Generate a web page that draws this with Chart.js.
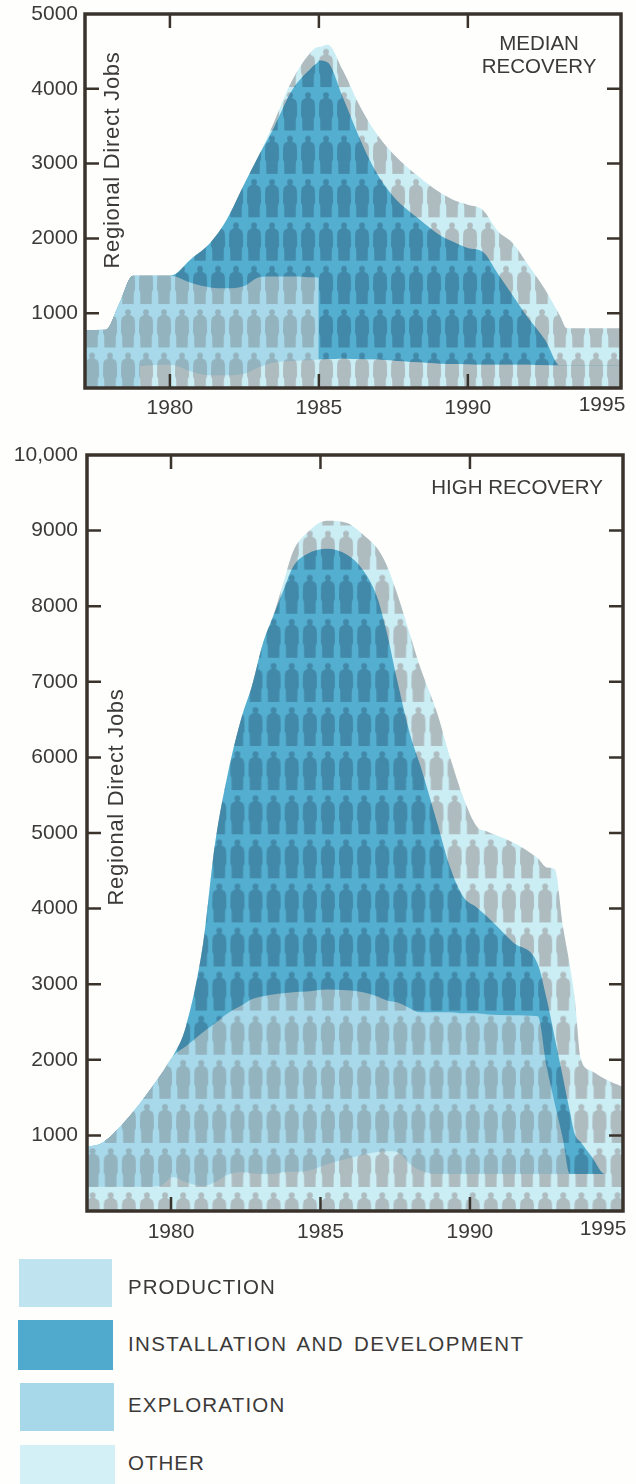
<!DOCTYPE html>
<html>
<head>
<meta charset="utf-8">
<title>Regional Direct Jobs</title>
<script src="https://cdn.jsdelivr.net/npm/chart.js@4/dist/chart.umd.min.js"></script>
<style>
  html, body { margin: 0; padding: 0; background: #fefefd; overflow: hidden; }
  #page { position: relative; width: 636px; height: 1484px; overflow: hidden; font-family: "Liberation Sans", sans-serif; }
  canvas { position: absolute; left: 0; }
  .swatch { position: absolute; }
  .label { position: absolute; left: 128px; font-size: 20.5px; letter-spacing: 1px; line-height: 24px; color: #3c3a38; white-space: nowrap; }
</style>
</head>
<body>
<div id="page">
  <canvas id="medianChart" style="top:0"></canvas>
  <canvas id="highChart" style="top:440px"></canvas>

  <div class="swatch" style="left:19px;top:1259px;width:93px;height:48px;background:#bfe4f0"></div>
  <div class="label" style="top:1275px">PRODUCTION</div>
  <div class="swatch" style="left:18px;top:1320px;width:95px;height:50px;background:#4faacd"></div>
  <div class="label" style="top:1332px;letter-spacing:1.4px;word-spacing:3px">INSTALLATION AND DEVELOPMENT</div>
  <div class="swatch" style="left:20px;top:1383px;width:94px;height:48px;background:#a6d8ea"></div>
  <div class="label" style="top:1393px;letter-spacing:1.2px">EXPLORATION</div>
  <div class="swatch" style="left:20px;top:1445px;width:95px;height:39px;background:#d2f0f6"></div>
  <div class="label" style="top:1451px">OTHER</div>
</div>

<script>
const xTickYears = [1980, 1985, 1990, 1995];
const medianYTicks = [1000, 2000, 3000, 4000, 5000];
const highYTicks = [1000, 2000, 3000, 4000, 5000, 6000, 7000, 8000, 9000, 10000];

// values, each one is the top edge of its band
const medianYears = [1977.15, 1977.85, 1978.3, 1978.76, 1978.99, 1979, 1980, 1980.75, 1981.35, 1981.9, 1982.5, 1983, 1983.5, 1984.1, 1984.8, 1984.99, 1985, 1985.3, 1985.8, 1986.4, 1986.9, 1987.5, 1988.4, 1989, 1989.6, 1990, 1990.5, 1991, 1991.5, 1992, 1992.6, 1993.1, 1993.32, 1995.14];
const medianOther = [0, 0, 0, 0, 0, 290, 310, 215, 170, 170, 190, 280, 340, 360, 375, 380, 380, 385, 390, 385, 380, 365, 340, 325, 320, 315, 310, 310, 310, 310, 305, 300, 300, 300];
const medianExploration = [775, 780, 1130, 1500, 1500, 1500, 1500, 1400, 1345, 1335, 1365, 1480, 1490, 1490, 1480, 1475, 380, 385, 390, 385, 380, 365, 340, 325, 320, 315, 310, 310, 310, 310, 305, 300, 300, 300];
const medianInstallation = [775, 780, 1130, 1500, 1500, 1500, 1500, 1738, 1940, 2246, 2730, 3120, 3490, 3980, 4300, 4370, 4380, 4350, 3890, 3310, 2900, 2560, 2246, 2060, 1938, 1870, 1820, 1530, 1240, 950, 640, 300, 300, 300];
const medianProduction = [775, 780, 1130, 1500, 1500, 1500, 1500, 1738, 1940, 2246, 2730, 3120, 3560, 4110, 4520, 4560, 4560, 4590, 4250, 3750, 3420, 3130, 2810, 2630, 2500, 2450, 2380, 2100, 1940, 1660, 1310, 960, 800, 800];

const highYears = [1977.19, 1977.73, 1978.73, 1979.63, 1980.07, 1980.5, 1981.07, 1981.47, 1981.9, 1982.37, 1982.7, 1983.08, 1983.41, 1983.75, 1984.08, 1984.55, 1985.22, 1985.89, 1986.42, 1986.89, 1987.22, 1987.56, 1988, 1988.33, 1988.9, 1989.33, 1989.77, 1990.23, 1990.57, 1991.44, 1992.27, 1992.57, 1992.84, 1993.11, 1993.34, 1993.51, 1993.71, 1994.08, 1994.52, 1995.12];
const highOther = [320, 320, 320, 330, 450, 380, 330, 380, 480, 515, 500, 490, 490, 515, 520, 530, 620, 690, 740, 780, 790, 780, 620, 540, 490, 490, 490, 490, 490, 490, 490, 490, 490, 490, 490, 490, 490, 490, 490, 490];
const highExploration = [845, 910, 1310, 1785, 2050, 2180, 2365, 2480, 2615, 2720, 2800, 2840, 2865, 2880, 2895, 2905, 2930, 2920, 2895, 2840, 2785, 2760, 2680, 2630, 2630, 2630, 2615, 2615, 2600, 2590, 2575, 1900, 1415, 950, 490, 490, 490, 490, 490, 490];
const highInstallation = [845, 910, 1310, 1785, 2050, 2440, 3530, 4850, 5780, 6540, 6935, 7515, 7860, 8200, 8520, 8690, 8760, 8680, 8480, 8125, 7650, 7030, 6300, 5905, 5140, 4555, 4160, 4015, 3895, 3555, 3265, 2800, 2285, 1770, 1320, 1015, 910, 715, 490, 490];
const highProduction = [845, 910, 1310, 1785, 2050, 2440, 3530, 4850, 5780, 6540, 6935, 7515, 7860, 8300, 8720, 8970, 9130, 9100, 8950, 8770, 8540, 8170, 7620, 7200, 6590, 6010, 5480, 5085, 5020, 4875, 4665, 4545, 4520, 3765, 3250, 2800, 2010, 1850, 1745, 1640];

const frameColor = "#3a332c";
const textColor = "#3c3a38";
const fontFamily = "'Liberation Sans', Arial, sans-serif";

// tile with one small figure, repeated over the filled bands
function figurePattern(base, figure, cellW, cellH, originX, originY) {
  const tile = document.createElement("canvas");
  tile.width = 18;
  tile.height = 44;
  const c = tile.getContext("2d");
  c.fillStyle = base;
  c.fillRect(0, 0, 18, 44);
  c.fillStyle = figure;
  c.beginPath();
  c.arc(9, 3.2, 2.9, 0, Math.PI * 2);
  c.fill();
  c.beginPath();
  c.moveTo(7.4, 5.5);
  c.lineTo(10.6, 5.5);
  c.lineTo(15, 8.5);
  c.lineTo(15.8, 12);
  c.lineTo(16, 24);
  c.lineTo(14.8, 27);
  c.lineTo(14.6, 39);
  c.lineTo(3.4, 39);
  c.lineTo(3.2, 27);
  c.lineTo(2, 24);
  c.lineTo(2.2, 12);
  c.lineTo(3, 8.5);
  c.closePath();
  c.fill();
  const pattern = c.createPattern(tile, "repeat");
  pattern.setTransform(new DOMMatrix().translate(originX, originY).scale(cellW / 18, cellH / 44));
  return pattern;
}

function bands(grid) {
  const light = figurePattern("#cbedf4", "#aebcc0", ...grid);
  const mid = figurePattern("#a8d9ea", "#93b3bf", ...grid);
  const dark = figurePattern("#54aed0", "#4289a9", ...grid);
  return { light, mid, dark };
}

// the tick labels must not push the frame inwards
function noScalePadding(scale) {
  scale.paddingTop = 0;
  scale.paddingBottom = 0;
  scale.paddingLeft = 0;
  scale.paddingRight = 0;
}

// frame, inward ticks and the texts that sit inside the plot
const framePlugin = {
  id: "frame",
  afterDatasetsDraw(chart, args, opts) {
    const { ctx, chartArea: a, scales: { x, y } } = chart;
    ctx.save();
    ctx.strokeStyle = frameColor;
    ctx.lineWidth = 3.5;
    ctx.strokeRect(a.left, a.top, a.right - a.left, a.bottom - a.top);

    ctx.lineWidth = 2.5;
    ctx.beginPath();
    xTickYears.forEach(v => {
      if (v === 1995) return;
      const px = x.getPixelForValue(v);
      ctx.moveTo(px, a.top);
      ctx.lineTo(px, a.top + 14);
      ctx.moveTo(px, a.bottom);
      ctx.lineTo(px, a.bottom - 14);
    });
    y.ticks.forEach(t => {
      if (t.value >= y.max) return;
      const py = y.getPixelForValue(t.value);
      ctx.moveTo(a.left, py);
      ctx.lineTo(a.left + 14, py);
      ctx.moveTo(a.right, py);
      ctx.lineTo(a.right - 14, py);
    });
    ctx.stroke();

    ctx.fillStyle = textColor;
    ctx.font = "20.5px " + fontFamily;
    ctx.textBaseline = "middle";
    ctx.textAlign = "center";
    opts.title.forEach(t => ctx.fillText(t.text, t.x, t.y));

    ctx.font = "21px " + fontFamily;
    ctx.fillText("1995", opts.lastTickX, opts.lastTickY);

    ctx.font = "22px " + fontFamily;
    ctx.letterSpacing = "0.7px";
    ctx.translate(opts.yTitleX, opts.yTitleY);
    ctx.rotate(-Math.PI / 2);
    ctx.fillText("Regional Direct Jobs", 0, 0);
    ctx.restore();
  }
};

function series(label, years, values, fill) {
  return {
    label,
    data: years.map((yr, i) => ({ x: yr, y: values[i] })),
    backgroundColor: fill,
    fill: "origin",
    borderWidth: 0,
    pointRadius: 0,
    cubicInterpolationMode: "monotone"
  };
}

function drawChart(id, cfg) {
  const el = document.getElementById(id);
  el.width = 636;
  el.height = cfg.height;
  el.style.width = "636px";
  el.style.height = cfg.height + "px";
  new Chart(el, {
    type: "line",
    data: { datasets: cfg.datasets },
    plugins: [framePlugin],
    options: {
      responsive: false,
      animation: false,
      events: [],
      layout: { autoPadding: false, padding: { top: cfg.top, right: 636 - cfg.right, left: 0, bottom: 0 } },
      plugins: { legend: { display: false }, tooltip: { enabled: false }, frame: cfg.frame },
      scales: {
        x: {
          type: "linear",
          min: cfg.xMin,
          max: cfg.xMax,
          grid: { display: false, drawTicks: false },
          border: { display: false },
          afterBuildTicks: scale => { scale.ticks = xTickYears.map(v => ({ value: v })); },
          afterFit: scale => { scale.height = cfg.height - cfg.bottom; noScalePadding(scale); },
          ticks: {
            autoSkip: false,
            maxRotation: 0,
            padding: cfg.xPad,
            color: textColor,
            font: { family: fontFamily, size: 21 },
            callback: v => (v === 1995 ? "" : String(v))
          }
        },
        y: {
          min: 0,
          max: cfg.yMax,
          grid: { display: false, drawTicks: false },
          border: { display: false },
          afterBuildTicks: scale => { scale.ticks = cfg.yTicks.map(v => ({ value: v })); },
          afterFit: scale => { scale.width = cfg.left; noScalePadding(scale); },
          ticks: {
            autoSkip: false,
            padding: cfg.yPad,
            color: textColor,
            font: { family: fontFamily, size: 21 },
            callback: v => (v === 10000 ? "10,000" : String(v))
          }
        }
      }
    }
  });
}

const medianFill = bands([18, 43.4, 101, 352.4]);
drawChart("medianChart", {
  height: 430,
  top: 14,
  left: 85,
  right: 621,
  bottom: 388,
  xMin: 1977.15,
  xMax: 1995.14,
  yMax: 5000,
  yTicks: medianYTicks,
  xPad: 8,
  yPad: 7,
  frame: {
    title: [
      { text: "MEDIAN", x: 539, y: 44 },
      { text: "RECOVERY", x: 539, y: 67 }
    ],
    lastTickX: 602,
    lastTickY: 405,
    yTitleX: 113,
    yTitleY: 160
  },
  datasets: [
    series("Other", medianYears, medianOther, medianFill.light),
    series("Exploration", medianYears, medianExploration, medianFill.mid),
    series("Installation and Development", medianYears, medianInstallation, medianFill.dark),
    series("Production", medianYears, medianProduction, medianFill.light)
  ]
});

const highFill = bands([18.1, 44.1, 101.65, 752]);
drawChart("highChart", {
  height: 820,
  top: 15,
  left: 87,
  right: 623,
  bottom: 771,
  xMin: 1977.19,
  xMax: 1995.12,
  yMax: 10000,
  yTicks: highYTicks,
  xPad: 9,
  yPad: 9,
  frame: {
    title: [{ text: "HIGH RECOVERY", x: 517, y: 48 }],
    lastTickX: 603,
    lastTickY: 789,
    yTitleX: 117,
    yTitleY: 357
  },
  datasets: [
    series("Other", highYears, highOther, highFill.light),
    series("Exploration", highYears, highExploration, highFill.mid),
    series("Installation and Development", highYears, highInstallation, highFill.dark),
    series("Production", highYears, highProduction, highFill.light)
  ]
});
</script>
</body>
</html>
